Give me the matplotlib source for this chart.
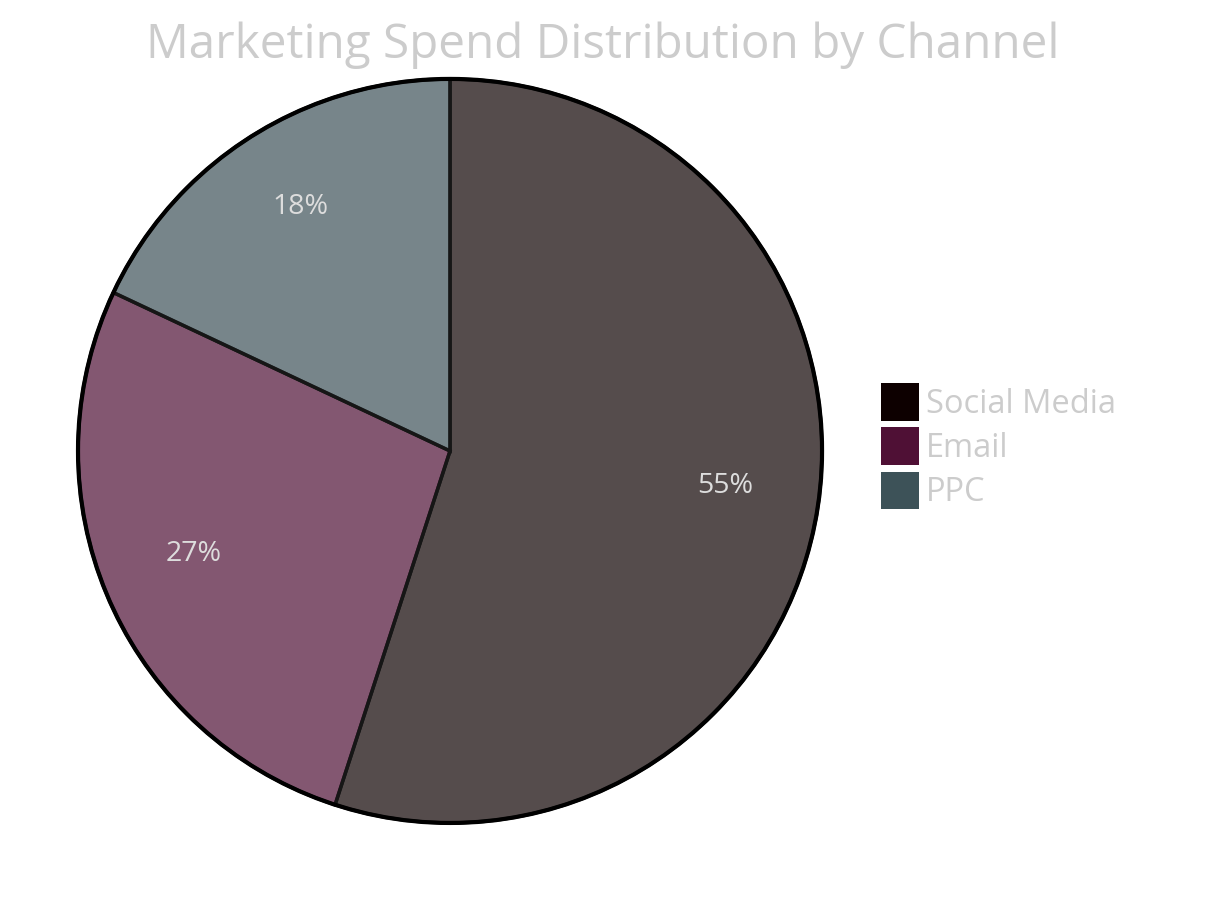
import matplotlib
matplotlib.use("Agg")
import matplotlib.pyplot as plt
import matplotlib.patches as mpatches
from matplotlib.colors import to_rgba

# data
channels = ["Social Media", "Email", "PPC"]
spend_pct = [55, 27, 18]
colors = ["#0d0000", "#4f1035", "#3d5258"]

plt.rcParams['font.family'] = ['Open Sans', 'DejaVu Sans']

fig = plt.figure(figsize=(12.13, 9.0), dpi=100)
ax = fig.add_axes([0.0643, 0.0856, 0.6134, 0.8267])

face = [to_rgba(c, 0.7) for c in colors]
wedges, texts, autotexts = ax.pie(
    spend_pct, colors=face, startangle=90, counterclock=False,
    autopct='%1.0f%%', pctdistance=0.75, radius=1.0,
    wedgeprops=dict(edgecolor='#161616', linewidth=2.5),
    textprops=dict(color='#dddddd', fontsize=20.5))
for t in autotexts:
    x, y = t.get_position()
    t.set_position((x, y + 0.022))
ax.set_xlim(-1.0, 1.0)
ax.set_ylim(-1.0, 1.0)
ax.set_aspect('equal')
ax.axis('off')

# outer ring
ax.add_patch(mpatches.Circle((0, 0), 1.0, fill=False, edgecolor='black',
                             lw=3, clip_on=False))

handles = [mpatches.Patch(facecolor=c, edgecolor='none') for c in colors]
fig.legend(handles, channels, loc='center left', bbox_to_anchor=(0.7263, 0.504),
           frameon=False, fontsize=23.5, labelcolor='#cccccc',
           handlelength=1.17, handleheight=1.41, handletextpad=0.22,
           labelspacing=0.19, borderpad=0, borderaxespad=0)

fig.text(0.497, 0.95, "Marketing Spend Distribution by Channel",
         ha='center', va='center', fontsize=34.3, color='#cccccc')

fig.savefig("out.png", dpi=100, facecolor='white')
